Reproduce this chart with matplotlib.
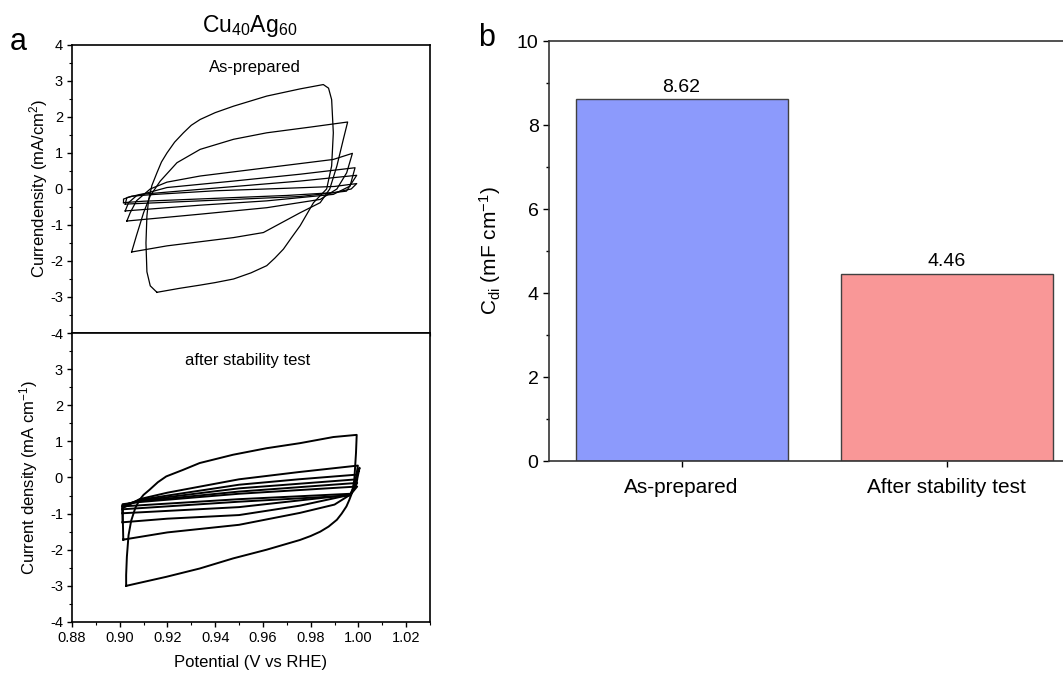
import matplotlib
matplotlib.use("Agg")
import matplotlib.pyplot as plt
from matplotlib.ticker import MultipleLocator

plt.rcParams['font.family'] = ['Liberation Sans', 'DejaVu Sans']
plt.rcParams['mathtext.fontset'] = 'custom'
plt.rcParams['mathtext.rm'] = 'Liberation Sans'
plt.rcParams['mathtext.it'] = 'Liberation Sans:italic'
plt.rcParams['mathtext.default'] = 'regular'
plt.rcParams['axes.unicode_minus'] = False

# CV loops, as-prepared (potential V, current mA/cm2)
prep_x = [
    [0.9156, 0.9128, 0.9114, 0.9110, 0.9114, 0.9121, 0.9135, 0.9156, 0.9175, 0.9198, 0.9230, 0.9267, 0.9300, 0.9337,
     0.9400, 0.9477, 0.9616, 0.9756, 0.9853,
     0.9875, 0.9888, 0.9895, 0.9888, 0.9867, 0.9812, 0.9756, 0.9720, 0.9686, 0.9650, 0.9616, 0.9550, 0.9477,
     0.9400, 0.9337, 0.9250, 0.9156],
    [0.9050, 0.9070, 0.9100, 0.9128, 0.9170, 0.9240, 0.9337, 0.9477, 0.9616, 0.9800, 0.9955,
     0.9937, 0.9910, 0.9880, 0.9840, 0.9756, 0.9602, 0.9477, 0.9198, 0.9050],
    [0.9030, 0.9044, 0.9070, 0.9128, 0.9198, 0.9337, 0.9616, 0.9895, 0.9975,
     0.9951, 0.9910, 0.9840, 0.9616, 0.9337, 0.9030],
    [0.9023, 0.9037, 0.9070, 0.9198, 0.9477, 0.9756, 0.9986, 0.9965, 0.9895, 0.9616, 0.9337, 0.9023],
    [0.9023, 0.9030, 0.9086, 0.9337, 0.9756, 0.9993, 0.9950, 0.9756, 0.9337, 0.9023],
    [0.9016, 0.9016, 0.9050, 0.9150, 0.9400, 0.9700, 0.9900, 0.9993, 0.9970, 0.9900, 0.9700, 0.9400, 0.9100, 0.9016],
]
prep_y = [
    [-2.87, -2.69, -2.30, -1.50, -0.75, -0.30, 0.10, 0.45, 0.75, 1.00, 1.30, 1.56, 1.77, 1.93,
     2.12, 2.30, 2.58, 2.78, 2.90,
     2.80, 2.48, 1.56, 0.64, 0.00, -0.38, -1.02, -1.35, -1.67, -1.92, -2.13, -2.33, -2.50,
     -2.60, -2.67, -2.76, -2.87],
    [-1.75, -1.30, -0.66, -0.19, 0.22, 0.73, 1.10, 1.38, 1.56, 1.72, 1.86,
     1.38, 0.64, 0.00, -0.38, -0.66, -1.21, -1.35, -1.58, -1.75],
    [-0.89, -0.66, -0.33, 0.00, 0.19, 0.36, 0.59, 0.82, 0.99,
     0.45, 0.00, -0.29, -0.52, -0.70, -0.89],
    [-0.61, -0.38, -0.19, 0.04, 0.22, 0.41, 0.59, 0.08, -0.15, -0.33, -0.45, -0.61],
    [-0.42, -0.24, -0.15, -0.01, 0.22, 0.38, -0.06, -0.21, -0.33, -0.42],
    [-0.38, -0.28, -0.20, -0.15, -0.05, 0.02, 0.07, 0.15, 0.00, -0.10, -0.18, -0.26, -0.34, -0.38],
]

# CV loops, after stability test
after_x = [
    [0.9027, 0.9027, 0.9030, 0.9037, 0.9048, 0.9065, 0.9083, 0.9100, 0.9125, 0.9160, 0.9195, 0.9265, 0.9335,
     0.9475, 0.9615, 0.9755, 0.9895, 0.9993,
     0.9990, 0.9983, 0.9973, 0.9962, 0.9950, 0.9930, 0.9910, 0.9875, 0.9840, 0.9800, 0.9755, 0.9615, 0.9475,
     0.9335, 0.9195, 0.9027],
    [0.9015, 0.9012, 0.9050, 0.9083, 0.9200, 0.9500, 0.9750, 0.9998,
     0.9985, 0.9965, 0.9900, 0.9755, 0.9500, 0.9200, 0.9015],
    [0.9012, 0.9012, 0.9050, 0.9083, 0.9200, 0.9500, 0.9750, 0.9995, 1.0005, 0.9990,
     0.9965, 0.9755, 0.9500, 0.9200, 0.9012],
    [0.9012, 0.9012, 0.9050, 0.9083, 0.9500, 0.9995, 0.9980, 0.9965, 0.9500, 0.9012],
    [0.9012, 0.9012, 0.9083, 0.9500, 0.9995, 0.9965, 0.9500, 0.9012],
    [0.9012, 0.9012, 0.9083, 0.9500, 0.9995, 0.9970, 0.9500, 0.9012],
]
after_y = [
    [-3.00, -2.70, -2.20, -1.60, -1.20, -0.85, -0.62, -0.48, -0.34, -0.13, 0.03, 0.21, 0.40,
     0.63, 0.81, 0.95, 1.12, 1.18,
     0.68, -0.06, -0.43, -0.62, -0.80, -1.00, -1.17, -1.36, -1.50, -1.62, -1.73, -2.00, -2.24,
     -2.52, -2.75, -3.00],
    [-1.72, -0.85, -0.72, -0.60, -0.42, -0.05, 0.15, 0.33,
     -0.20, -0.48, -0.75, -0.98, -1.31, -1.52, -1.72],
    [-1.24, -0.80, -0.70, -0.62, -0.50, -0.20, -0.05, 0.08, 0.27, -0.20,
     -0.48, -0.78, -1.04, -1.14, -1.24],
    [-0.99, -0.78, -0.70, -0.64, -0.30, -0.05, -0.35, -0.48, -0.82, -0.99],
    [-0.88, -0.76, -0.66, -0.39, -0.15, -0.50, -0.67, -0.88],
    [-0.80, -0.74, -0.68, -0.45, -0.25, -0.45, -0.60, -0.80],
]

bar_labels = ['As-prepared', 'After stability test']
cdl = [8.62, 4.46]
bar_colors = ['#8c9afc', '#f99797']

fig = plt.figure(figsize=(10.63, 6.73), dpi=100)
ax1 = fig.add_axes([0.0677, 0.5052, 0.3368, 0.4280])
ax2 = fig.add_axes([0.0677, 0.0758, 0.3368, 0.4294])
ax3 = fig.add_axes([0.5165, 0.3150, 0.4986, 0.6240])

for xs, ys in zip(prep_x, prep_y):
    ax1.plot(xs, ys, color='black', lw=0.9)
for xs, ys in zip(after_x, after_y):
    ax2.plot(xs, ys, color='black', lw=1.4)

for ax in (ax1, ax2):
    ax.set_xlim(0.88, 1.03)
    ax.set_ylim(-4, 4)
    ax.xaxis.set_major_locator(MultipleLocator(0.02))
    ax.xaxis.set_minor_locator(MultipleLocator(0.01))
    ax.yaxis.set_major_locator(MultipleLocator(1))
    ax.yaxis.set_minor_locator(MultipleLocator(0.5))
    ax.tick_params(which='major', direction='out', length=3.5, width=1, labelsize=10.5, pad=3)
    ax.tick_params(which='minor', direction='out', length=2, width=0.8)
    for s in ax.spines.values():
        s.set_linewidth(1.2)

ax1.set_xticklabels([])
ax1.set_yticks([-4, -3, -2, -1, 0, 1, 2, 3, 4])
ax2.set_yticks([-4, -3, -2, -1, 0, 1, 2, 3])
ax2.set_xticks([0.88, 0.90, 0.92, 0.94, 0.96, 0.98, 1.00, 1.02])
ax2.set_xticklabels(['0.88', '0.90', '0.92', '0.94', '0.96', '0.98', '1.00', '1.02'])

ax1.set_ylabel('Currendensity (mA/cm$^2$)', fontsize=12)
ax1.yaxis.set_label_coords(-0.062, 0.5)
ax2.set_ylabel('Current density (mA cm$^{-1}$)', fontsize=12)
ax2.yaxis.set_label_coords(-0.09, 0.5)
ax2.set_xlabel('Potential (V vs RHE)', fontsize=12)
ax2.xaxis.set_label_coords(0.5, -0.115)

ax1.text(0.51, 0.92, 'As-prepared', transform=ax1.transAxes, ha='center', va='center', fontsize=12)
ax2.text(0.49, 0.905, 'after stability test', transform=ax2.transAxes, ha='center', va='center', fontsize=12)

fig.text(250 / 1063, 1 - 26 / 673, 'Cu$_{40}$Ag$_{60}$', ha='center', va='center', fontsize=16.5)
fig.text(18 / 1063, 1 - 42 / 673, 'a', ha='center', va='center', fontsize=22)
fig.text(487 / 1063, 1 - 38 / 673, 'b', ha='center', va='center', fontsize=22)

# bar panel
xpos = list(range(len(cdl)))
ax3.bar(xpos, cdl, width=0.8, color=bar_colors, edgecolor='#404040', linewidth=1)
for x, v in zip(xpos, cdl):
    ax3.text(x, v + 0.08, f'{v:.2f}', ha='center', va='bottom', fontsize=14)
ax3.set_xlim(-0.5, 1.5)
ax3.set_ylim(0, 10)
ax3.set_xticks(xpos)
ax3.set_xticklabels(bar_labels)
ax3.yaxis.set_major_locator(MultipleLocator(2))
ax3.yaxis.set_minor_locator(MultipleLocator(1))
ax3.tick_params(which='major', direction='out', length=4, width=1, labelsize=14)
ax3.tick_params(axis='x', pad=8, labelsize=15)
ax3.tick_params(which='minor', direction='out', length=2.5, width=1)
ax3.set_ylabel('C$_{di}$ (mF cm$^{-1}$)', fontsize=15)
ax3.yaxis.set_label_coords(-0.087, 0.5)
for s in ax3.spines.values():
    s.set_linewidth(1.2)
    s.set_color('#333333')

fig.savefig('out.png', dpi=100)
